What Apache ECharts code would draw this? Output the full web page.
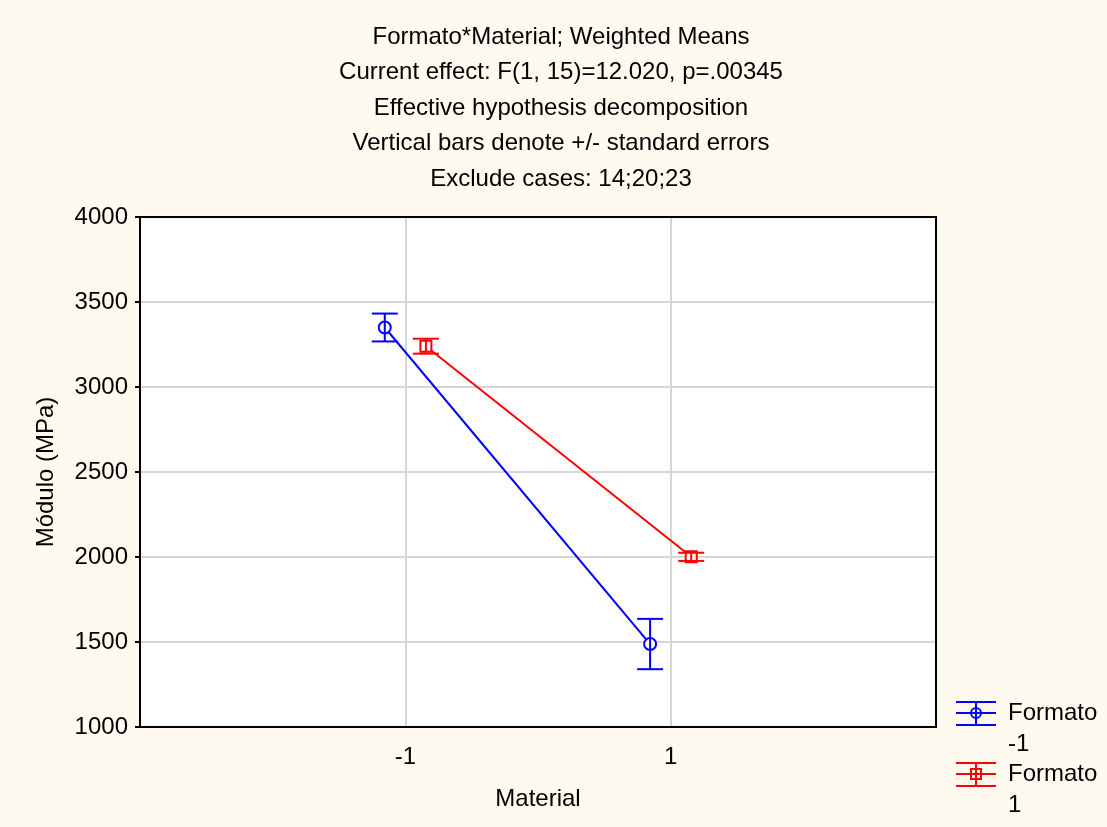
<!DOCTYPE html>
<html>
<head>
<meta charset="utf-8">
<script src="https://cdn.jsdelivr.net/npm/echarts@6/dist/echarts.min.js"></script>
<style>
html,body{margin:0;padding:0;background:#FFFAF0;}
#chart{width:1107px;height:827px;}
</style>
</head>
<body>
<div id="chart"></div>
<script>
var materials = [-1, 1];
var xTickLabels = ['-1', '1'];
var formatoNeg1Means = [3350, 1488];
var formatoNeg1SE = [82, 148];
var formato1Means = [3240, 2001];
var formato1SE = [44, 24];
var titleLines = [
  'Formato*Material; Weighted Means',
  'Current effect: F(1, 15)=12.020, p=.00345',
  'Effective hypothesis decomposition',
  'Vertical bars denote +/- standard errors',
  'Exclude cases: 14;20;23'
];
var legendNames = ['Formato\n-1', 'Formato\n1'];

var FONT = '"Liberation Sans", Arial, sans-serif';
var FS = 24;
var OFF = 0.155;

function pts(means, off) {
  return materials.map(function (m, i) { return [m + off, means[i]]; });
}
function errs(means, se, off) {
  return materials.map(function (m, i) { return [m + off, means[i] - se[i], means[i] + se[i]]; });
}
function errRender(color) {
  return function (params, api) {
    var x = api.value(0);
    var lo = api.coord([x, api.value(1)]);
    var hi = api.coord([x, api.value(2)]);
    var hw = 13;
    var st = { stroke: color, lineWidth: 2 };
    return {
      type: 'group',
      children: [
        { type: 'line', shape: { x1: lo[0], y1: lo[1], x2: hi[0], y2: hi[1] }, style: st },
        { type: 'line', shape: { x1: lo[0] - hw, y1: lo[1], x2: lo[0] + hw, y2: lo[1] }, style: st },
        { type: 'line', shape: { x1: hi[0] - hw, y1: hi[1], x2: hi[0] + hw, y2: hi[1] }, style: st }
      ]
    };
  };
}

var chart = echarts.init(document.getElementById('chart'));

var legendGraphics = [];
function legendItem(y, color, isCircle, name) {
  var st = { stroke: color, lineWidth: 2 };
  var cx = 976;
  legendGraphics.push({ type: 'line', shape: { x1: 956, y1: y - 11, x2: 996, y2: y - 11 }, style: st });
  legendGraphics.push({ type: 'line', shape: { x1: 956, y1: y, x2: 996, y2: y }, style: st });
  legendGraphics.push({ type: 'line', shape: { x1: 956, y1: y + 12, x2: 996, y2: y + 12 }, style: st });
  legendGraphics.push({ type: 'line', shape: { x1: cx, y1: y - 11, x2: cx, y2: y + 12 }, style: st });
  if (isCircle) {
    legendGraphics.push({ type: 'circle', shape: { cx: cx, cy: y, r: 5 }, style: { stroke: color, lineWidth: 2, fill: 'none' } });
  } else {
    legendGraphics.push({ type: 'rect', shape: { x: cx - 5, y: y - 5, width: 10, height: 10 }, style: { stroke: color, lineWidth: 2, fill: 'none' } });
  }
  legendGraphics.push({
    type: 'text', left: 1008, top: y - 15,
    style: { text: name, fill: '#000', font: FS + 'px ' + FONT, lineHeight: 31 }
  });
}
legendItem(713, '#0000ff', true, legendNames[0]);
legendItem(774, '#ff0000', false, legendNames[1]);

var titleGraphics = titleLines.map(function (t, i) {
  return {
    type: 'text', x: 561, y: 37 + i * 35.6,
    style: { text: t, fill: '#000', font: FS + 'px ' + FONT, textAlign: 'center', textVerticalAlign: 'middle' }
  };
});

var frame = {
  type: 'rect', z: 100, silent: true,
  shape: { x: 140, y: 217, width: 796, height: 510 },
  style: { fill: 'none', stroke: '#000', lineWidth: 2 }
};

chart.setOption({
  backgroundColor: '#FFFAF0',
  animation: false,
  grid: {
    left: 140, right: 171, top: 217, bottom: 100,
    show: true, backgroundColor: '#ffffff', borderColor: '#000', borderWidth: 2
  },
  xAxis: {
    type: 'value', min: -3, max: 3, interval: 2,
    name: 'Material', nameLocation: 'middle', nameGap: 60,
    nameTextStyle: { fontFamily: FONT, fontSize: FS, color: '#000' },
    axisLine: { show: true, onZero: false, lineStyle: { color: '#000', width: 2 } },
    axisTick: { show: false },
    axisLabel: {
      fontFamily: FONT, fontSize: FS, color: '#000', margin: 18,
      formatter: function (v) { var i = materials.indexOf(v); return i >= 0 ? xTickLabels[i] : ''; }
    },
    splitLine: { show: true, lineStyle: { color: '#d6d6d6', width: 2 } }
  },
  yAxis: {
    type: 'value', min: 1000, max: 4000, interval: 500,
    name: 'Módulo (MPa)', nameLocation: 'middle', nameGap: 82,
    nameTextStyle: { fontFamily: FONT, fontSize: FS, color: '#000' },
    axisLine: { show: true, onZero: false, lineStyle: { color: '#000', width: 2 } },
    axisTick: { show: true, length: 5, lineStyle: { color: '#000', width: 2 } },
    axisLabel: { fontFamily: FONT, fontSize: FS, color: '#000', margin: 12, formatter: function (v) { return String(v); } },
    splitLine: { show: true, lineStyle: { color: '#d6d6d6', width: 2 } }
  },
  graphic: titleGraphics.concat(legendGraphics).concat([frame]),
  series: [
    {
      type: 'line', name: 'Formato -1', data: pts(formatoNeg1Means, -OFF),
      symbol: 'emptyCircle', symbolSize: 12,
      lineStyle: { color: '#0000ff', width: 2 },
      itemStyle: { color: '#0000ff', borderWidth: 2 }, z: 3
    },
    {
      type: 'line', name: 'Formato 1', data: pts(formato1Means, OFF),
      symbol: 'emptyRect', symbolSize: 11,
      lineStyle: { color: '#ff0000', width: 2 },
      itemStyle: { color: '#ff0000', borderWidth: 2 }, z: 3
    },
    {
      type: 'custom', data: errs(formatoNeg1Means, formatoNeg1SE, -OFF),
      renderItem: errRender('#0000ff'), encode: { x: 0, y: [1, 2] }, z: 4
    },
    {
      type: 'custom', data: errs(formato1Means, formato1SE, OFF),
      renderItem: errRender('#ff0000'), encode: { x: 0, y: [1, 2] }, z: 4
    }
  ]
});
</script>
</body>
</html>
